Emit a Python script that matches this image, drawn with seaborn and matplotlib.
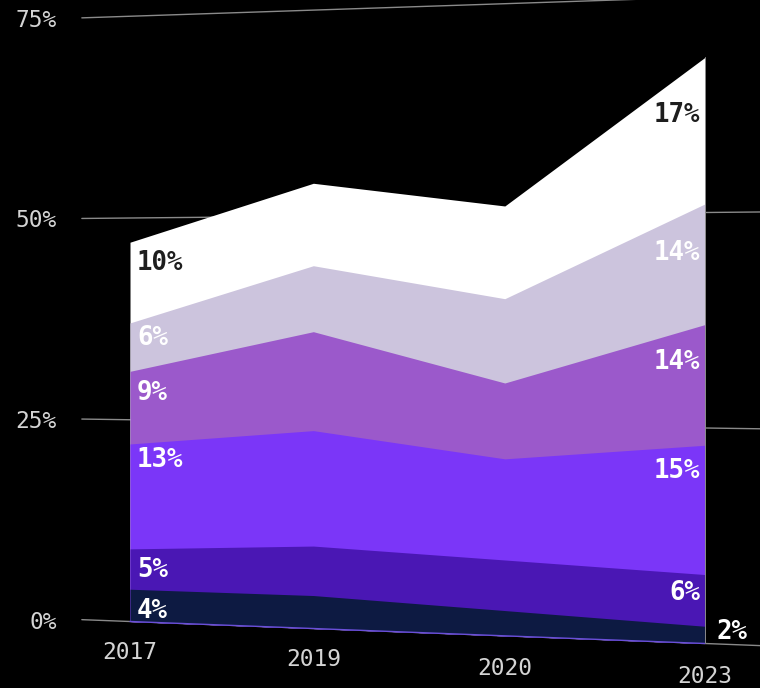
import numpy as np
import pandas as pd
import matplotlib
matplotlib.use("Agg")
import matplotlib.pyplot as plt
from matplotlib.transforms import Transform, offset_copy
import seaborn as sns

# ---- data -------------------------------------------------------------
years = ["2017", "2019", "2020", "2023"]
navy = [4, 4, 3, 2]
indigo = [5, 6, 6, 6]
violet = [13, 14, 12, 15]
orchid = [9, 12, 9, 14]
lavender = [6, 8, 10, 14]
white = [10, 10, 11, 17]
layers = [navy, indigo, violet, orchid, lavender, white]
layer_colors = ["#0d1a42", "#4a17b4", "#7b36f8", "#9b59cb", "#ccc4dd", "#ffffff"]
label_colors = ["white", "white", "white", "white", "white", "#1e1e1e"]

y_ticks = [0, 25, 50, 75]
y_tick_labels = ["0%", "25%", "50%", "75%"]

# text baselines (in % units) for the value labels of the first and last year
first_label_base = [0.4, 5.5, 19.1, 27.4, 34.3, 43.6]
last_label_base = [0.5, 5.0, 19.2, 31.8, 44.5, 60.5]


# ---- tilted (perspective) projection of the data plane -----------------
def homography(src, dst):
    rows = []
    for (x, y), (u, v) in zip(src, dst):
        rows.append([x, y, 1, 0, 0, 0, -u * x, -u * y, -u])
        rows.append([0, 0, 0, x, y, 1, -v * x, -v * y, -v])
    _, _, vt = np.linalg.svd(np.array(rows, float))
    h = vt[-1].reshape(3, 3)
    return h / h[2, 2]


class Tilt(Transform):
    input_dims = 2
    output_dims = 2
    is_separable = False

    def __init__(self, h):
        super().__init__()
        self.h = h

    def transform_non_affine(self, values):
        v = np.asarray(values, float).reshape(-1, 2)
        p = np.column_stack([v, np.ones(len(v))]) @ self.h.T
        return p[:, :2] / p[:, 2:3]


sns.set_theme(style="white", rc={
    "figure.facecolor": "black",
    "axes.facecolor": "black",
    "savefig.facecolor": "black",
})
plt.rcParams["font.family"] = ["DejaVu Sans Mono", "DejaVu Sans"]

W, Hgt = 760, 688
fig = plt.figure(figsize=(W / 100, Hgt / 100), dpi=100)
ax = fig.add_axes([0, 0, 1, 1])

# plane corners: (year index, percent) -> canvas pixel
H = homography(
    [(0, 0), (0, 50), (3, 0), (3, 50)],
    [(130, 621.5), (130, 218.0), (705, 643.5), (705, 212.5)],
)
T = Tilt(H) + ax.transData

xs = np.arange(len(years))

# gridlines
x_left, x_right = -0.27, 3.3
grid_df = pd.DataFrame({
    "x": np.tile([x_left, x_right], len(y_ticks)),
    "y": np.repeat(y_ticks, 2),
    "level": np.repeat(y_ticks, 2),
})
sns.lineplot(data=grid_df, x="x", y="y", units="level", estimator=None,
             color="#8a8a8a", lw=1.0, transform=T, ax=ax, legend=False,
             zorder=1)

# stacked areas: draw cumulative stacks from the top layer down
cum = np.cumsum(np.array(layers, float), axis=0)
for i in range(len(layers) - 1, -1, -1):
    ax.fill_between(xs, 0, cum[i], color=layer_colors[i], lw=0,
                    transform=T, zorder=2 + (len(layers) - i) * 0.01)

# thin baseline under the stack and right edge
ax.plot([0, 3], [0, 0], color="#6a4fd8", lw=1.0, transform=T, zorder=3)
ax.plot([3, 3], [0, cum[-1][-1]], color="#8a8a8a", lw=0.7, transform=T,
        zorder=3)

# value labels at first and last year
lab_kw = dict(fontsize=18.5, fontweight="bold", va="baseline", zorder=5)
for i, vals in enumerate(layers):
    ax.text(0, first_label_base[i], f"{vals[0]}%", color=label_colors[i],
            ha="left", transform=offset_copy(T, fig, x=7, y=0, units="dots"),
            **lab_kw)
    if i == 0:
        ax.text(3, last_label_base[i], f"{vals[-1]}%", color="white",
                ha="left",
                transform=offset_copy(T, fig, x=11, y=0, units="dots"),
                **lab_kw)
    else:
        ax.text(3, last_label_base[i], f"{vals[-1]}%", color=label_colors[i],
                ha="right",
                transform=offset_copy(T, fig, x=-5, y=0, units="dots"),
                **lab_kw)

# y tick labels
for v, s in zip(y_ticks, y_tick_labels):
    ax.text(x_left, v, s, color="#d4d4d4", fontsize=16.5, ha="right",
            va="center_baseline",
            transform=offset_copy(T, fig, x=-25, y=0, units="dots"))

# x tick labels
for i, s in enumerate(years):
    ax.text(i, -4.6, s, color="#d4d4d4", fontsize=16.5, ha="center",
            va="baseline", transform=T)

ax.set_xlim(0, W)
ax.set_ylim(Hgt, 0)
ax.set_xlabel("")
ax.set_ylabel("")
ax.axis("off")

fig.savefig("out.png", dpi=100, facecolor="black")
